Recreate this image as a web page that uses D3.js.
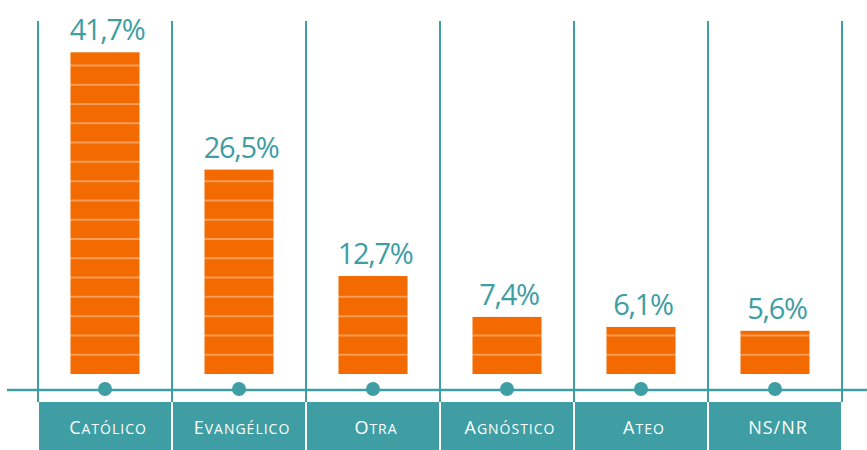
<!DOCTYPE html>
<html>
<head>
<meta charset="utf-8">
<script src="https://cdn.jsdelivr.net/npm/d3@7"></script>
<style>
  html, body { margin: 0; padding: 0; background: #fff; }
  svg { display: block; }
</style>
</head>
<body>
<div id="chart"></div>
<script>
// data
const categories = ["Católico", "Evangélico", "Otra", "Agnóstico", "Ateo", "NS/NR"];
const values = [41.7, 26.5, 12.7, 7.4, 6.1, 5.6];
const valueLabels = ["41,7%", "26,5%", "12,7%", "7,4%", "6,1%", "5,6%"];

const width = 867, height = 450;
const teal = "#3e9ea3";
const orange = "#f26a00";

const svg = d3.select("#chart").append("svg")
    .attr("width", width)
    .attr("height", height);

// scales
const xScale = d3.scaleBand()
    .domain(categories)
    .range([38, 842]);

const yScale = d3.scaleLinear()
    .domain([0, 42])
    .range([374, 50]);

const barW = 69;
const cx = d => xScale(d) + xScale.bandwidth() / 2;

// column separators
const edges = categories.map(d => xScale(d)).concat([xScale.range()[1]]);
svg.append("g")
    .selectAll("line")
    .data(edges)
    .join("line")
    .attr("x1", d => d).attr("x2", d => d)
    .attr("y1", 21).attr("y2", 402)
    .attr("stroke", teal)
    .attr("stroke-width", 2);

// baseline
svg.append("line")
    .attr("x1", 7).attr("x2", width)
    .attr("y1", 390).attr("y2", 390)
    .attr("stroke", teal)
    .attr("stroke-width", 2.5);

// bars
const rows = categories.map((c, i) => ({cat: c, value: values[i], label: valueLabels[i]}));

const bars = svg.append("g")
    .selectAll("g.bar")
    .data(rows)
    .join("g")
    .attr("class", "bar");

bars.append("rect")
    .attr("x", d => cx(d.cat) - barW / 2)
    .attr("width", barW)
    .attr("y", d => yScale(d.value))
    .attr("height", d => yScale(0) - yScale(d.value))
    .attr("fill", orange);

// stripes every 2.5 units, inside each bar (skip one that would sit on the top edge)
bars.each(function(d) {
    const stripes = d3.range(2.5, d.value - 0.4, 2.5);
    d3.select(this).selectAll("line.stripe")
        .data(stripes)
        .join("line")
        .attr("class", "stripe")
        .attr("x1", cx(d.cat) - barW / 2)
        .attr("x2", cx(d.cat) + barW / 2)
        .attr("y1", v => yScale(v))
        .attr("y2", v => yScale(v))
        .attr("stroke", "#ffffff")
        .attr("stroke-opacity", 0.35)
        .attr("stroke-width", 2);
});

// value labels
bars.append("text")
    .attr("x", d => cx(d.cat) + 2)
    .attr("y", d => yScale(d.value) - 12)
    .attr("text-anchor", "middle")
    .attr("font-family", "'Open Sans', sans-serif")
    .attr("font-size", 29)
    .attr("letter-spacing", -1.3)
    .attr("fill", teal)
    .text(d => d.label);

// dots on baseline
svg.append("g")
    .selectAll("circle")
    .data(categories)
    .join("circle")
    .attr("cx", d => cx(d))
    .attr("cy", 389)
    .attr("r", 7)
    .attr("fill", teal);

// category boxes
const boxes = svg.append("g")
    .selectAll("g.cat")
    .data(categories)
    .join("g")
    .attr("class", "cat");

boxes.append("rect")
    .attr("x", d => xScale(d) + 1)
    .attr("width", xScale.bandwidth() - 2)
    .attr("y", 402)
    .attr("height", height - 402)
    .attr("fill", teal);

// small caps: upper case letters full size, lower case letters as smaller capitals
function capRuns(s) {
    const runs = [];
    for (const ch of s) {
        const big = ch !== ch.toLowerCase() || ch === "/";
        const last = runs[runs.length - 1];
        if (last && last.big === big) last.text += ch;
        else runs.push({big, text: ch});
    }
    return runs;
}

const capLabel = boxes.append("text")
    .attr("x", d => cx(d) + 3)
    .attr("y", 434)
    .attr("text-anchor", "middle")
    .attr("font-family", "'Open Sans', sans-serif")
    .attr("fill", "#ffffff")
    .attr("letter-spacing", 1);

capLabel.selectAll("tspan")
    .data(d => capRuns(d))
    .join("tspan")
    .attr("font-size", r => r.big ? 18 : 14)
    .text(r => r.text.toUpperCase());
</script>
</body>
</html>
